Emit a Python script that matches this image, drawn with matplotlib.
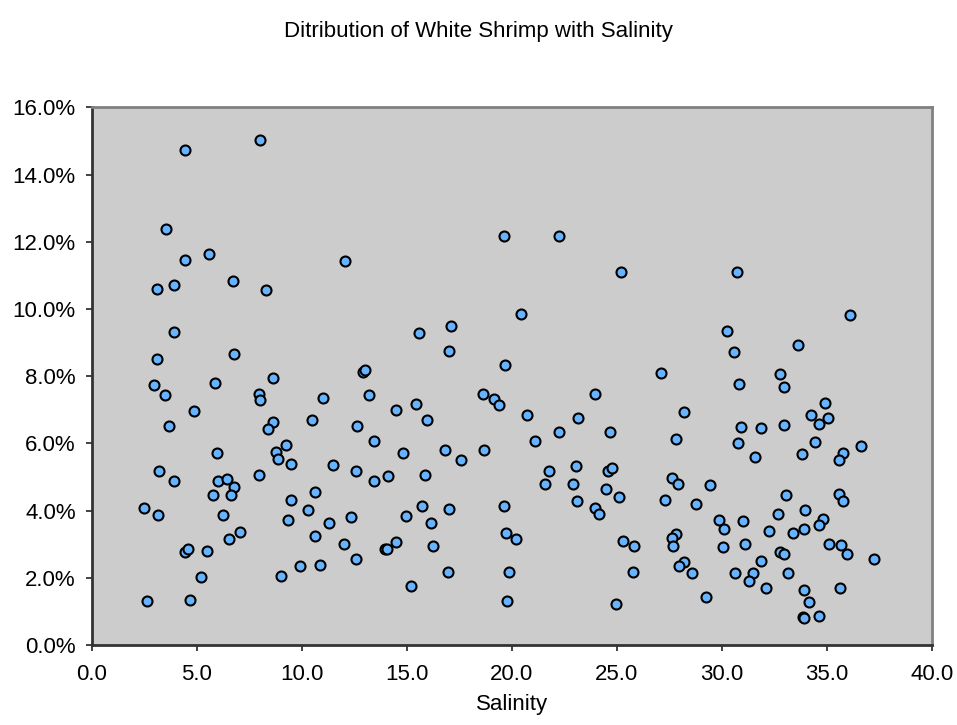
import matplotlib
matplotlib.use("Agg")
import matplotlib.pyplot as plt
from matplotlib.ticker import FuncFormatter, MultipleLocator

plt.rcParams['font.family'] = ['Liberation Sans', 'DejaVu Sans']

title = "Ditribution of White Shrimp with Salinity"
x_label = "Salinity"

salinity = [
    4.44, 8.03, 3.55, 5.59, 4.44, 3.10, 3.92, 6.71, 8.30, 3.92, 3.10, 6.76,
    2.97, 3.48, 5.87, 8.65, 7.97, 8.03, 4.89, 3.68, 8.65, 8.38, 9.24, 5.97,
    8.79, 8.85, 9.49, 3.20, 3.90, 6.03, 6.43, 6.76, 7.95, 5.76, 6.63, 2.51,
    3.17, 6.24, 9.49, 9.36, 7.05, 6.55, 4.46, 4.57, 5.49, 5.19, 9.03, 9.90,
    2.63, 4.70,
    12.05, 19.63, 15.59, 17.12, 17.03, 19.70, 12.93, 13.03,
    11.01, 13.20, 14.49, 15.46, 15.97, 18.65, 19.17, 19.38, 10.50, 12.65,
    13.44, 14.84, 16.84, 17.57, 18.70, 11.49, 12.57, 13.44, 14.10, 15.89,
    10.63, 10.32, 11.30, 12.36, 14.97, 15.73, 17.03, 16.16, 19.63, 10.63,
    12.03, 13.97, 14.05, 14.50, 16.24, 19.71, 20.19, 10.87, 12.57, 16.98,
    19.89, 15.19, 19.76,
    22.25, 25.19, 20.46, 27.11,
    23.97, 20.74, 23.14, 22.24, 24.70, 21.11, 28.22, 27.81, 21.78, 23.04,
    24.57, 24.77, 21.59, 22.90, 24.49, 25.10, 23.10, 23.97, 24.17, 27.63,
    27.92, 29.44, 27.29, 28.78, 29.89, 30.12, 30.05, 25.31, 25.84, 25.78,
    27.82, 27.65, 27.68, 28.22, 27.97, 28.57, 29.24, 24.97,
    30.73, 36.12, 30.25, 33.65, 30.59, 32.78,
    30.83, 32.99, 34.90, 34.24, 35.05, 34.62, 30.90, 31.86, 32.99, 30.78,
    34.44, 36.65, 31.59, 33.80, 35.78, 35.57, 33.05, 35.57, 35.78, 32.70,
    33.97, 34.82, 34.62, 31.03, 32.25, 33.40, 33.92, 31.11, 32.78, 32.98,
    35.11, 35.68, 35.97, 37.27, 31.86, 33.17, 30.63, 31.51, 31.30, 32.12,
    33.92, 35.65, 34.17, 33.86, 33.90, 34.63,
]

percent = [
    14.72, 15.02, 12.39, 11.65, 11.46, 10.61, 10.72, 10.83, 10.56, 9.32, 8.51, 8.65,
    7.75, 7.44, 7.80, 7.95, 7.47, 7.30, 6.95, 6.52, 6.63, 6.42, 5.96, 5.71,
    5.73, 5.53, 5.38, 5.19, 4.89, 4.89, 4.94, 4.70, 5.05, 4.46, 4.45, 4.08,
    3.86, 3.88, 4.32, 3.73, 3.35, 3.16, 2.76, 2.85, 2.80, 2.02, 2.04, 2.34,
    1.32, 1.35,
    11.43, 12.18, 9.29, 9.49, 8.74, 8.34, 8.13, 8.18,
    7.36, 7.45, 6.98, 7.18, 6.69, 7.47, 7.31, 7.13, 6.69, 6.52,
    6.06, 5.71, 5.79, 5.52, 5.79, 5.35, 5.19, 4.89, 5.03, 5.07,
    4.55, 4.03, 3.63, 3.80, 3.85, 4.15, 4.06, 3.63, 4.15, 3.25,
    3.01, 2.85, 2.87, 3.08, 2.94, 3.34, 3.15, 2.37, 2.55, 2.17,
    2.17, 1.76, 1.32,
    12.16, 11.10, 9.85, 8.10,
    7.48, 6.85, 6.77, 6.33, 6.34, 6.06, 6.93, 6.12, 5.19, 5.33,
    5.19, 5.27, 4.80, 4.79, 4.65, 4.39, 4.28, 4.09, 3.89, 4.97,
    4.78, 4.75, 4.32, 4.19, 3.71, 3.46, 2.93, 3.10, 2.94, 2.17,
    3.31, 3.18, 2.95, 2.47, 2.35, 2.14, 1.43, 1.23,
    11.09, 9.83, 9.35, 8.93, 8.72, 8.07,
    7.76, 7.68, 7.20, 6.84, 6.75, 6.59, 6.49, 6.45, 6.56, 6.01,
    6.04, 5.93, 5.60, 5.69, 5.71, 5.52, 4.47, 4.50, 4.29, 3.91,
    4.03, 3.74, 3.56, 3.69, 3.39, 3.33, 3.46, 3.01, 2.78, 2.71,
    3.00, 2.99, 2.72, 2.57, 2.50, 2.14, 2.13, 2.13, 1.91, 1.71,
    1.65, 1.71, 1.27, 0.83, 0.80, 0.85,
]

fig = plt.figure(figsize=(9.57, 7.25), dpi=100)
ax = fig.add_axes([91.7 / 957, 80 / 725, 840 / 957, 537.6 / 725])
ax.set_facecolor('#CCCCCC')

ax.plot(salinity, percent, linestyle='none', marker='o', markersize=7.2,
        markerfacecolor='#66B3FF', markeredgecolor='black', markeredgewidth=1.5,
        zorder=3, clip_on=False)

ax.set_xlim(0, 40)
ax.set_ylim(0, 16)
ax.xaxis.set_major_locator(MultipleLocator(5))
ax.yaxis.set_major_locator(MultipleLocator(2))
ax.xaxis.set_major_formatter(FuncFormatter(lambda v, p: f"{v:.1f}"))
ax.yaxis.set_major_formatter(FuncFormatter(lambda v, p: f"{v:.1f}%"))

for side in ['top', 'right']:
    ax.spines[side].set_color('#808080')
    ax.spines[side].set_linewidth(2)
for side in ['left', 'bottom']:
    ax.spines[side].set_color('#333333')
    ax.spines[side].set_linewidth(2)

ax.tick_params(axis='both', direction='out', length=4.5, width=1.2,
               colors='#222222', labelsize=16, labelcolor='black')
ax.tick_params(axis='y', pad=7)
ax.tick_params(axis='x', pad=9)

ax.set_xlabel(x_label, fontsize=16, labelpad=7)
fig.text(0.5, 1 - 31 / 725, title, ha='center', va='center', fontsize=16)

fig.savefig('out.png', dpi=100)
